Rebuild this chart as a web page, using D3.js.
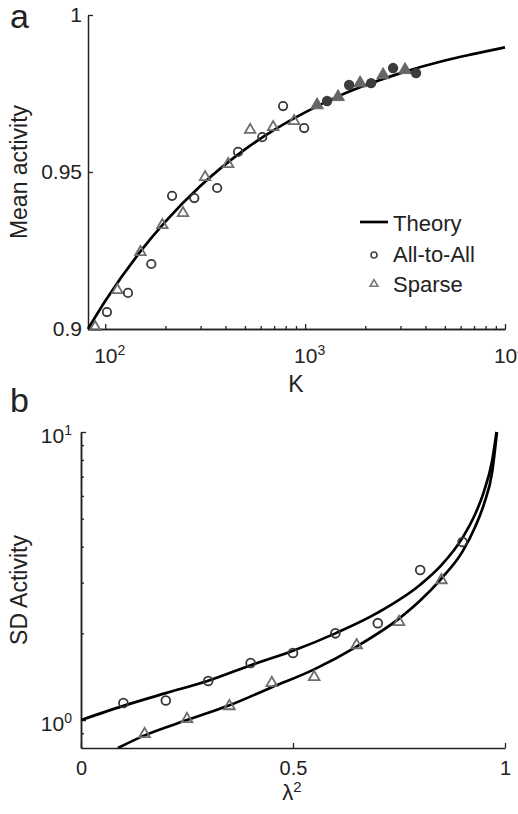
<!DOCTYPE html>
<html><head><meta charset="utf-8">
<script src="https://cdn.jsdelivr.net/npm/d3@7"></script>
<style>
body{margin:0;background:#fff}
svg text{font-family:"Liberation Sans",Arial,Helvetica,sans-serif;fill:#222}
</style>
</head><body>
<svg id="chart" width="518" height="814"></svg>
<script>
// ---------- Panel a data ----------
const theoryK    = [82, 100, 150, 200, 300, 500, 700, 1000, 1500, 2000, 3000, 5000, 7000, 10000];
const theoryMean = [0.900, 0.9089, 0.9247, 0.9342, 0.9456, 0.9572, 0.9634, 0.969, 0.9744, 0.9776, 0.9815, 0.9855, 0.9876, 0.9897];

const allToAllK      = [102, 130, 170, 216, 279, 363, 462, 610, 776, 989];
const allToAllMean   = [0.9054, 0.9115, 0.9207, 0.9424, 0.9417, 0.9449, 0.9564, 0.9611, 0.9710, 0.9640];
const allToAllHiK    = [1288, 1660, 2138, 2754, 3589];
const allToAllHiMean = [0.9726, 0.9777, 0.9783, 0.9831, 0.9815];

const sparseK      = [89, 115, 150, 193, 245, 316, 412, 531, 692, 881];
const sparseMean   = [0.9006, 0.9124, 0.9245, 0.9331, 0.9369, 0.9484, 0.9525, 0.9634, 0.9643, 0.9662];
const sparseHiK    = [1148, 1462, 1884, 2455, 3162];
const sparseHiMean = [0.9713, 0.9739, 0.9783, 0.9809, 0.9825];

const kMajorTicks = [100, 1000, 10000];
const kMinorTicks = [200, 300, 400, 500, 600, 700, 800, 900, 2000, 3000, 4000, 5000, 6000, 7000, 8000, 9000];
const meanTicks   = [0.9, 0.95, 1];
const legendLabels = ["Theory", "All-to-All", "Sparse"];

// ---------- Panel b data ----------
const upperLam = [0, 0.1, 0.2, 0.3, 0.4, 0.5, 0.6, 0.7, 0.8, 0.85, 0.9, 0.93, 0.95, 0.97, 0.98];
const upperSD  = [1.0, 1.12, 1.24, 1.37, 1.55, 1.74, 2.0, 2.36, 2.95, 3.45, 4.3, 5.2, 6.2, 8.0, 10.0];
const lowerLam = [0.087, 0.15, 0.25, 0.35, 0.45, 0.55, 0.65, 0.75, 0.8, 0.85, 0.9, 0.93, 0.95, 0.97, 0.981];
const lowerSD  = [0.8, 0.885, 1.0, 1.125, 1.3, 1.5, 1.8, 2.25, 2.6, 3.1, 3.85, 4.7, 5.6, 7.3, 10.0];

const circLam = [0.1, 0.2, 0.3, 0.4, 0.5, 0.6, 0.7, 0.8, 0.9];
const circSD  = [1.146, 1.17, 1.366, 1.578, 1.71, 2.0, 2.17, 3.32, 4.15];
const triLam  = [0.15, 0.25, 0.35, 0.45, 0.55, 0.65, 0.75, 0.85];
const triSD   = [0.894, 1.008, 1.118, 1.345, 1.41, 1.82, 2.19, 3.06];

const lamTicks     = [0, 0.5, 1];
const sdMajorTicks = [1, 10];
const sdMinorTicks = [0.9, 2, 3, 4, 5, 6, 7, 8, 9];

// ---------- drawing ----------
const svg = d3.select("#chart");
svg.append("rect").attr("width", 518).attr("height", 814).attr("fill", "#fff");
const FONT = '"Liberation Sans",Arial,Helvetica,sans-serif';
const AX = "#222";

function styleAxis(g, fs) {
  g.attr("font-family", FONT).attr("font-size", fs).attr("color", AX);
  g.selectAll("path.domain").attr("stroke", AX).attr("stroke-width", 1.5);
  g.selectAll(".tick line").attr("stroke", AX).attr("stroke-width", 1.3);
}
function powLabels(g, exps, supSize, dx) {
  g.selectAll(".tick text").each(function(d, i) {
    const t = d3.select(this);
    t.text(null);
    if (dx) t.attr("x", dx);
    t.append("tspan").text("10");
    t.append("tspan").attr("dy", "-0.6em").attr("font-size", supSize).text(exps[i]);
  });
}
const tri = d3.symbol(d3.symbolTriangle);

// ===== Panel a =====
const xA = d3.scaleLog().domain([82, 10000]).range([88, 505]);
const yA = d3.scaleLinear().domain([0.9, 1]).range([329, 15]);

const gxMin = svg.append("g").attr("transform", "translate(0,329)")
  .call(d3.axisBottom(xA).tickValues(kMinorTicks).tickSizeInner(-3).tickSizeOuter(0).tickFormat(""));
styleAxis(gxMin, 21);
const gxMaj = svg.append("g").attr("transform", "translate(0,329)")
  .call(d3.axisBottom(xA).tickValues(kMajorTicks).tickSizeInner(-5).tickSizeOuter(0).tickPadding(19).tickFormat(() => "10"));
styleAxis(gxMaj, 21);
powLabels(gxMaj, ["2", "3", "4"], 14, 4);

const gyA = svg.append("g").attr("transform", "translate(88,0)")
  .call(d3.axisLeft(yA).tickValues(meanTicks).tickSizeInner(-5).tickSizeOuter(0).tickPadding(6).tickFormat(d3.format("~g")));
styleAxis(gyA, 21);

// theory line
svg.append("path")
  .datum(theoryK.map((k, i) => [k, theoryMean[i]]))
  .attr("fill", "none").attr("stroke", "#000").attr("stroke-width", 2.7)
  .attr("d", d3.line().x(d => xA(d[0])).y(d => yA(d[1])).curve(d3.curveMonotoneX));

// open markers
svg.append("g").selectAll("path").data(sparseK.map((k, i) => [k, sparseMean[i]])).join("path")
  .attr("d", tri.size(48)())
  .attr("transform", d => `translate(${xA(d[0])},${yA(d[1])})`)
  .attr("fill", "none").attr("stroke", "#6e6e6e").attr("stroke-width", 1.8);
svg.append("g").selectAll("circle").data(allToAllK.map((k, i) => [k, allToAllMean[i]])).join("circle")
  .attr("cx", d => xA(d[0])).attr("cy", d => yA(d[1])).attr("r", 4.2)
  .attr("fill", "none").attr("stroke", "#383838").attr("stroke-width", 1.8);
// filled markers at large K
svg.append("g").selectAll("path").data(sparseHiK.map((k, i) => [k, sparseHiMean[i]])).join("path")
  .attr("d", tri.size(70)())
  .attr("transform", d => `translate(${xA(d[0])},${yA(d[1])})`)
  .attr("fill", "#666").attr("stroke", "#666").attr("stroke-width", 1);
svg.append("g").selectAll("circle").data(allToAllHiK.map((k, i) => [k, allToAllHiMean[i]])).join("circle")
  .attr("cx", d => xA(d[0])).attr("cy", d => yA(d[1])).attr("r", 5.2)
  .attr("fill", "#3c3c3c");

// legend
const lg = svg.append("g");
lg.append("line").attr("x1", 360).attr("x2", 388).attr("y1", 222).attr("y2", 222)
  .attr("stroke", "#000").attr("stroke-width", 2.7);
lg.append("circle").attr("cx", 374).attr("cy", 255).attr("r", 3)
  .attr("fill", "none").attr("stroke", "#444").attr("stroke-width", 1.6);
lg.append("path").attr("d", tri.size(26)()).attr("transform", "translate(374,284)")
  .attr("fill", "none").attr("stroke", "#777").attr("stroke-width", 1.6);
lg.selectAll("text").data(legendLabels).join("text")
  .attr("x", 393).attr("y", (d, i) => 231 + i * 30.5)
  .attr("font-size", 22).text(d => d);

// axis labels
svg.append("text").attr("transform", "translate(27,172) rotate(-90)")
  .attr("text-anchor", "middle").attr("font-size", 23).text("Mean activity");
svg.append("text").attr("x", 296).attr("y", 392)
  .attr("text-anchor", "middle").attr("font-size", 23).text("K");
svg.append("text").attr("x", 10).attr("y", 28).attr("font-size", 34).text("a");

// ===== Panel b =====
const xB = d3.scaleLinear().domain([0, 1]).range([81, 505]);
const yB = d3.scaleLog().domain([0.8, 10]).range([748, 432]);

const gxB = svg.append("g").attr("transform", "translate(0,748)")
  .call(d3.axisBottom(xB).tickValues(lamTicks).tickSizeInner(-5).tickSizeOuter(0).tickPadding(13).tickFormat(d3.format("~g")));
styleAxis(gxB, 20);

const gyBmin = svg.append("g").attr("transform", "translate(81,0)")
  .call(d3.axisLeft(yB).tickValues(sdMinorTicks).tickSizeInner(-3).tickSizeOuter(0).tickFormat(""));
styleAxis(gyBmin, 20);
const gyBmaj = svg.append("g").attr("transform", "translate(81,0)")
  .call(d3.axisLeft(yB).tickValues(sdMajorTicks).tickSizeInner(-5).tickSizeOuter(0).tickPadding(9).tickFormat(() => "10"));
styleAxis(gyBmaj, 21);
powLabels(gyBmaj, ["0", "1"], 14, null);
gyBmaj.selectAll(".tick text").attr("dy", "0.5em");

svg.append("clipPath").attr("id", "clipB").append("rect")
  .attr("x", 81).attr("y", 431).attr("width", 430).attr("height", 317);
const lineB = d3.line().x(d => xB(d[0])).y(d => yB(d[1])).curve(d3.curveMonotoneX);
const gLines = svg.append("g").attr("clip-path", "url(#clipB)");
gLines.append("path").datum(upperLam.map((l, i) => [l, upperSD[i]]))
  .attr("fill", "none").attr("stroke", "#000").attr("stroke-width", 2.7).attr("d", lineB);
gLines.append("path").datum(lowerLam.map((l, i) => [l, lowerSD[i]]))
  .attr("fill", "none").attr("stroke", "#000").attr("stroke-width", 2.7).attr("d", lineB);

svg.append("g").selectAll("circle").data(circLam.map((l, i) => [l, circSD[i]])).join("circle")
  .attr("cx", d => xB(d[0])).attr("cy", d => yB(d[1])).attr("r", 4.4)
  .attr("fill", "none").attr("stroke", "#383838").attr("stroke-width", 1.8);
svg.append("g").selectAll("path").data(triLam.map((l, i) => [l, triSD[i]])).join("path")
  .attr("d", tri.size(50)())
  .attr("transform", d => `translate(${xB(d[0])},${yB(d[1])})`)
  .attr("fill", "none").attr("stroke", "#6e6e6e").attr("stroke-width", 1.8);

const lamLabel = svg.append("text").attr("x", 292).attr("y", 800)
  .attr("text-anchor", "middle").attr("font-size", 22);
lamLabel.append("tspan").text("λ");
lamLabel.append("tspan").attr("dy", "-0.55em").attr("font-size", 15).text("2");
svg.append("text").attr("transform", "translate(27,590) rotate(-90)")
  .attr("text-anchor", "middle").attr("font-size", 23).text("SD Activity");
svg.append("text").attr("x", 10).attr("y", 412).attr("font-size", 34).text("b");
</script>
</body></html>
